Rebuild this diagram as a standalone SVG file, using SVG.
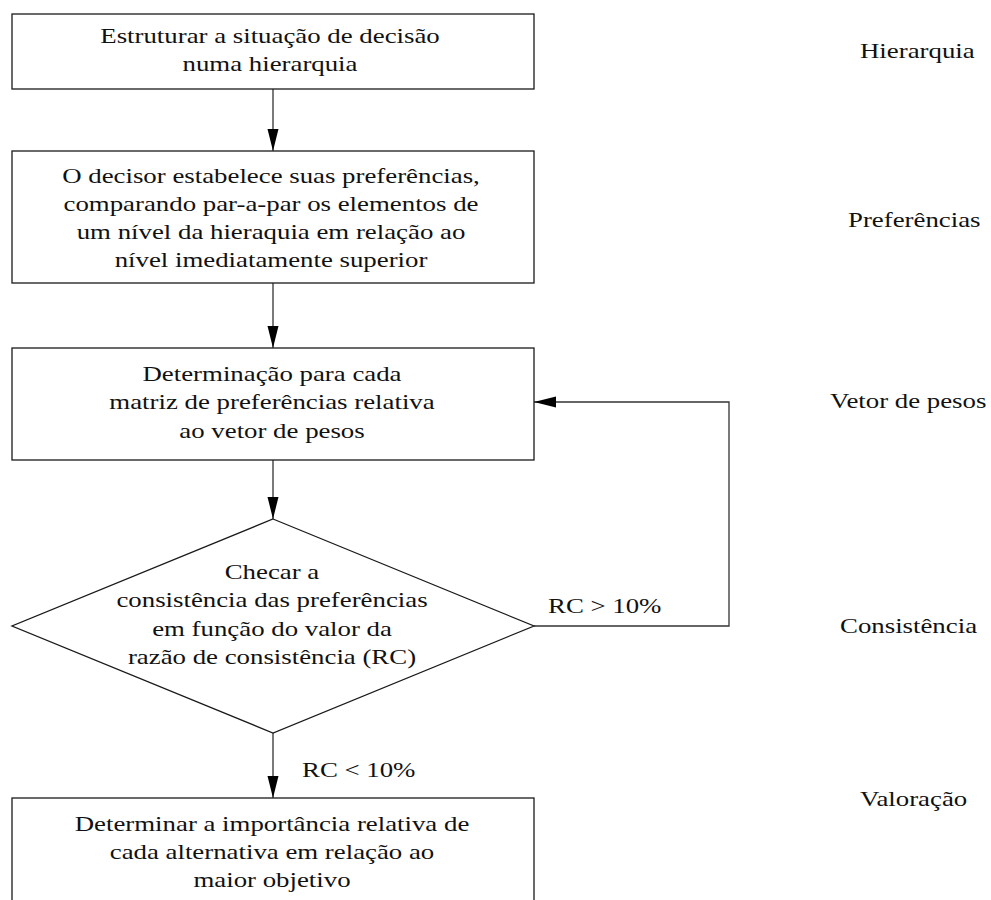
<svg xmlns="http://www.w3.org/2000/svg" width="991" height="900" viewBox="0 0 991 900">
<style>
.b{fill:#fff;stroke:#1a1a1a;stroke-width:1.3}
.c{fill:none;stroke:#333;stroke-width:1.3}
text{font-family:'Liberation Serif','DejaVu Serif',serif;font-size:22px;fill:#111}
.t{text-anchor:middle}
.l{text-anchor:start}
</style>
<defs>
<marker id="ah" markerUnits="userSpaceOnUse" markerWidth="22" markerHeight="12" refX="22" refY="6" orient="auto">
<path d="M0,0.5 L22,6 L0,11.5 Z" fill="#000"/>
</marker>
</defs>
<rect width="991" height="900" fill="#fff"/>
<g id="connectors">
<line class="c" x1="273" y1="89" x2="273" y2="151" marker-end="url(#ah)"/>
<line class="c" x1="273" y1="283" x2="273" y2="348" marker-end="url(#ah)"/>
<line class="c" x1="273" y1="460" x2="273" y2="519" marker-end="url(#ah)"/>
<line class="c" x1="273" y1="733" x2="273" y2="798" marker-end="url(#ah)"/>
<polyline class="c" points="534,626 729,626 729,402 534,402" marker-end="url(#ah)"/>
<text class="l" font-family="Liberation Serif, serif" transform="translate(548 0) scale(1.22 1)" y="613">RC &gt; 10%</text>
<text class="l" font-family="Liberation Serif, serif" transform="translate(302 0) scale(1.22 1)" y="777">RC &lt; 10%</text>
</g>
<g id="n1" font-family="Liberation Serif, serif">
<rect class="b" x="12" y="14" width="522" height="75"/>
<text class="t" transform="translate(270 0) scale(1.22 1)"><tspan x="0" y="43">Estruturar a situação de decisão</tspan><tspan x="0" y="71">numa hierarquia</tspan></text>
</g>
<g id="n2">
<rect class="b" x="12" y="151" width="522" height="132"/>
<text class="t" transform="translate(271 0) scale(1.22 1)"><tspan x="0" y="183">O decisor estabelece suas preferências,</tspan><tspan x="0" y="211">comparando par-a-par os elementos de</tspan><tspan x="0" y="239">um nível da hieraquia em relação ao</tspan><tspan x="0" y="267">nível imediatamente superior</tspan></text>
</g>
<g id="n3">
<rect class="b" x="12" y="348" width="522" height="112"/>
<text class="t" transform="translate(272 0) scale(1.22 1)"><tspan x="0" y="381">Determinação para cada</tspan><tspan x="0" y="409">matriz de preferências relativa</tspan><tspan x="0" y="438">ao vetor de pesos</tspan></text>
</g>
<g id="n4">
<polygon class="b" points="273,519 534,626 273,733 12,626"/>
<text class="t" transform="translate(272 0) scale(1.22 1)"><tspan x="0" y="579">Checar a</tspan><tspan x="0" y="607.5">consistência das preferências</tspan><tspan x="0" y="636">em função do valor da</tspan><tspan x="0" y="664.5">razão de consistência (RC)</tspan></text>
</g>
<g id="n5">
<rect class="b" x="12" y="798" width="522" height="120"/>
<text class="t" transform="translate(272 0) scale(1.22 1)"><tspan x="0" y="831">Determinar a importância relativa de</tspan><tspan x="0" y="859">cada alternativa em relação ao</tspan><tspan x="0" y="887">maior objetivo</tspan></text>
</g>
<g id="labels">
<text class="l" transform="translate(860 0) scale(1.22 1)" y="58">Hierarquia</text>
<text class="l" transform="translate(848 0) scale(1.22 1)" y="227">Preferências</text>
<text class="l" transform="translate(830 0) scale(1.22 1)" y="408">Vetor de pesos</text>
<text class="l" transform="translate(840 0) scale(1.22 1)" y="633">Consistência</text>
<text class="l" transform="translate(860 0) scale(1.22 1)" y="806">Valoração</text>
</g>
</svg>
